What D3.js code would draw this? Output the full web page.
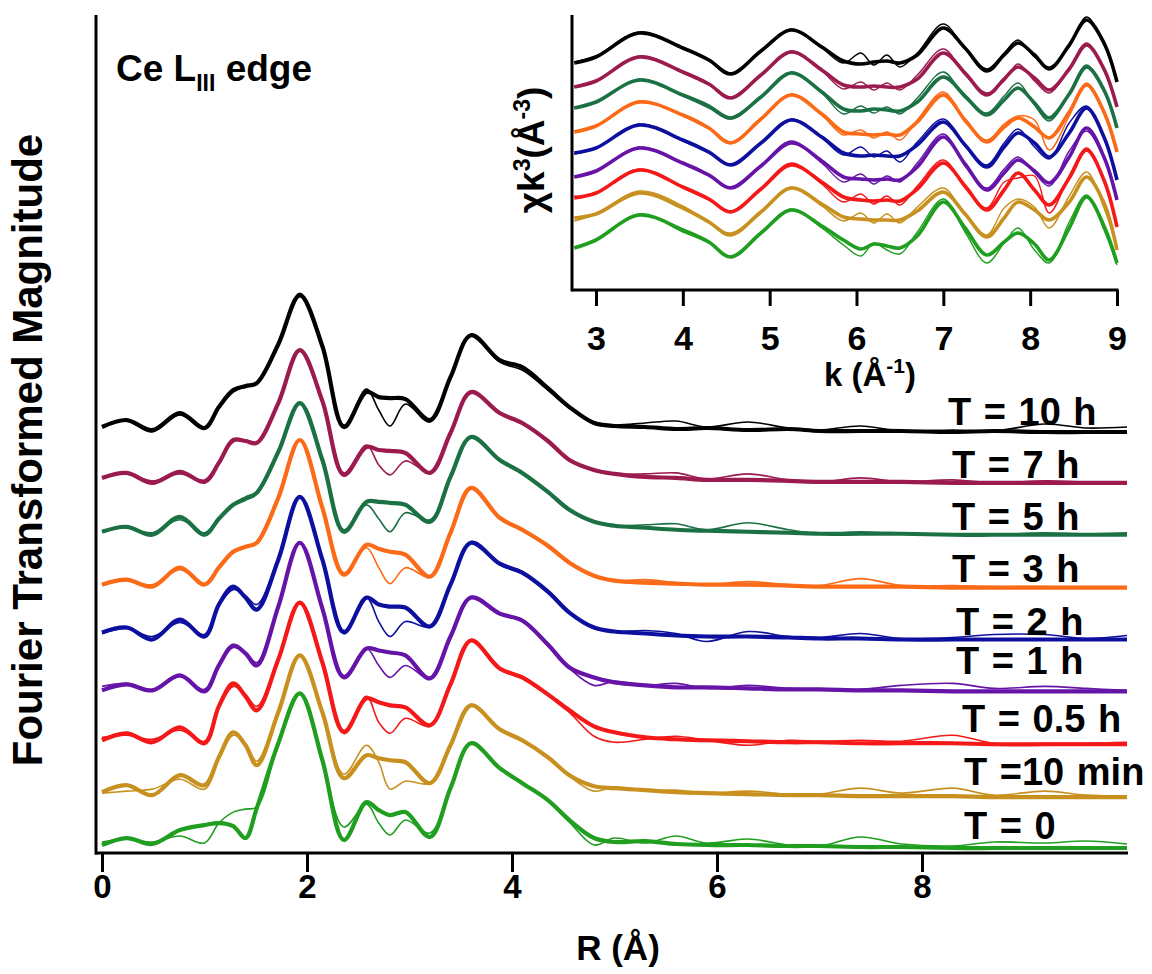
<!DOCTYPE html>
<html><head><meta charset="utf-8">
<script src="https://cdn.jsdelivr.net/npm/d3@7"></script>
<style>
body{margin:0;background:#fff;}
svg text{font-family:"Liberation Sans",Arial,sans-serif;font-weight:bold;fill:#000;}
</style>
</head><body>
<svg id="chart" width="1152" height="974"></svg>
<script>
// ---------- categories ----------
const seriesLabels = ["T = 10 h","T = 7 h","T = 5 h","T = 3 h","T = 2 h","T = 1 h","T = 0.5 h","T =10 min","T = 0"];
const seriesColors = ["#000000","#9c1b4f","#1b7144","#fb6a17","#0d0f9e","#6614a8","#f41818","#c8911f","#1f9e1f"];

// ---------- main panel: R grid and offsets ----------
const rGrid = [0,0.24,0.49,0.76,1.0, 1.14,1.28,1.4,1.51,1.72, 1.93,2.15,2.36,2.58,2.7, 2.81,2.96,3.2,3.4,3.6, 3.88,4.1,4.35,4.56,4.8, 5.0,5.3,5.6,5.9,6.3, 6.7,7.0,7.4,7.8,8.3, 8.7,9.2,9.6,10.0];
const rOffsets = [42.2,37.1,31.9,26.6,21.4,16.2,10.9,5.6,0.5];
const rTicks = [0,2,4,6,8];

// FT magnitude (data = thick, fit = thin), above each offset
const ftData10h = [0.5,1.2,0.2,1.9,0.4, 2.5,4.2,4.6,4.9,8.8, 13.7,8.6,0.5,4.0,3.5, 3.4,3.3,1.2,5.5,9.7, 7.2,6.5,4.4,2.5,0.9, 0.6,0.5,0.3,0.4,0.2, 0.3,0.1,0.1,0.1,0.0, 0.1,0.0,0.0,0.0];
const ftFit10h  = [0.6,1.1,0.0,1.7,0.3, 2.4,4.0,4.6,5.0,8.8, 13.9,8.6,0.7,4.3,2.2, 0.6,2.8,1.0,5.4,9.8, 7.0,6.2,4.2,2.4,1.0, 0.7,0.9,1.1,0.5,1.0, 0.4,0.2,0.6,0.1,0.2, 0.1,0.8,0.4,0.5];
const ftData7h  = [0.5,1.0,0.0,1.1,0.1, 2.0,4.3,4.2,4.0,8.0, 13.3,8.2,0.8,3.6,3.3, 3.2,3.0,1.0,5.0,9.1, 7.0,6.0,4.2,2.3,1.3, 0.9,0.6,0.5,0.3,0.3, 0.2,0.1,0.1,0.1,0.0, 0.0,0.0,0.0,0.0];
const ftFit7h   = [0.6,0.9,0.2,0.9,0.3, 2.1,4.1,4.3,4.1,8.1, 13.4,8.2,1.0,3.8,1.8, 0.8,2.2,1.1,5.1,9.2, 6.9,5.9,4.1,2.2,1.2, 0.9,0.9,1.0,0.4,0.9, 0.3,0.1,0.5,0.1,0.3, 0.0,0.2,0.1,0.0];
const ftData5h  = [0.3,0.8,0.0,1.8,0.0, 1.6,3.0,3.6,4.2,8.3, 13.2,7.5,0.3,3.3,3.3, 3.2,3.0,1.3,5.8,9.8, 7.5,6.2,4.3,2.5,1.3, 0.9,0.7,0.5,0.4,0.3, 0.2,0.1,0.1,0.1,0.0, 0.0,0.0,0.0,0.0];
const ftFit5h   = [0.4,0.7,0.2,1.5,0.2, 1.7,3.1,3.8,4.3,8.4, 13.3,7.6,0.5,3.0,1.6, 0.3,2.2,1.5,5.9,9.9, 7.4,6.1,4.2,2.4,1.3, 0.9,1.0,1.1,0.5,1.2, 0.5,0.1,0.3,0.1,0.0, 0.0,0.2,0.1,0.2];
const ftData3h  = [0.3,0.8,0.1,2.0,0.3, 2.0,3.6,4.1,4.5,9.0, 14.8,8.0,1.3,4.3,3.9, 3.6,3.3,1.1,5.5,10.0, 7.0,5.8,4.2,2.5,1.2, 0.7,0.5,0.4,0.3,0.3, 0.2,0.1,0.1,0.1,0.0, 0.0,0.0,0.0,0.0];
const ftFit3h   = [0.4,0.7,0.3,1.8,0.4, 2.1,3.5,4.0,4.6,9.1, 14.9,8.1,1.5,4.0,2.0, 0.4,2.0,1.1,5.6,10.1, 6.9,5.7,4.1,2.4,1.1, 0.7,0.8,0.5,0.3,0.6, 0.3,0.2,0.9,0.2,0.2, 0.1,0.1,0.0,0.0];
const ftData2h  = [0.7,1.2,0.0,2.0,0.3, 3.5,5.3,4.2,3.0,8.0, 14.3,8.0,0.7,4.2,3.5, 3.3,3.2,1.3,5.5,9.7, 7.6,6.7,4.8,2.7,1.2, 0.8,0.6,0.4,0.3,0.3, 0.2,0.1,0.1,0.0,0.0, 0.0,0.0,0.0,0.0];
const ftFit2h   = [0.6,1.1,0.3,1.7,0.5, 3.4,5.0,4.4,3.5,8.2, 14.4,8.1,0.9,4.2,1.8, 0.3,1.8,1.3,5.6,9.8, 7.5,6.6,4.7,2.6,1.1, 0.8,0.9,0.6,-0.2,0.8, 0.3,0.2,0.6,0.1,0.2, 0.5,0.5,0.1,0.4];
const ftData1h  = [0.1,0.7,0.1,1.6,0.0, 2.6,4.6,3.8,2.6,8.5, 14.9,8.3,1.4,4.3,4.1, 3.9,3.6,1.3,5.5,9.4, 7.8,7.1,4.7,2.4,1.4, 0.9,0.6,0.4,0.4,0.3, 0.2,0.2,0.1,0.1,0.0, 0.0,0.0,0.0,0.0];
const ftFit1h   = [0.5,0.8,0.2,1.5,0.2, 2.7,4.4,3.9,2.9,8.6, 15.0,8.4,1.6,4.3,2.6, 1.4,2.6,1.3,5.6,9.5, 7.7,7.0,4.6,2.3,0.6, 1.0,0.6,0.8,0.3,0.6, 0.3,0.2,0.2,0.6,0.8, 0.3,0.5,0.3,0.1];
const ftData05h = [0.4,1.1,0.2,1.7,0.1, 3.8,6.1,4.8,3.4,8.5, 14.2,8.2,1.2,4.6,4.2, 3.9,3.7,1.9,6.0,10.4, 7.6,6.7,5.0,3.4,1.8, 1.2,0.7,0.5,0.4,0.3, 0.2,0.2,0.1,0.1,0.1, 0.0,0.0,0.0,0.0];
const ftFit05h  = [0.7,0.9,0.5,1.4,0.3, 3.6,5.8,5.0,3.8,8.7, 14.3,8.3,1.4,4.8,2.2, 1.1,2.6,1.8,6.1,10.5, 7.5,6.6,4.9,3.2,0.8, 0.2,0.5,0.8,0.4,-0.1, 0.4,0.3,0.4,0.3,0.9, 0.1,0.1,0.1,0.2];
const ftData10m = [0.5,1.2,0.2,2.2,1.2, 4.0,6.5,5.2,3.2,8.5, 14.2,8.5,1.9,4.2,3.9, 3.7,3.5,1.4,5.2,9.2, 6.8,5.7,4.0,2.2,1.1, 0.9,0.7,0.5,0.4,0.3, 0.2,0.2,0.1,0.1,0.1, 0.0,0.0,0.0,0.0];
const ftFit10m  = [0.4,0.6,0.8,1.8,0.8, 3.8,6.2,5.4,3.6,8.6, 14.3,8.6,2.3,5.2,3.5, 0.8,1.6,1.4,5.3,9.3, 6.7,5.6,3.9,2.1,0.6, 1.0,0.6,0.7,0.4,0.6, 0.3,0.3,0.9,0.4,0.9, 0.2,0.6,0.2,0.1];
const ftData0   = [0.3,1.0,0.4,1.8,2.3, 2.5,2.2,1.0,4.0,10.5, 15.5,8.8,0.8,4.6,3.8, 3.3,3.6,1.1,6.0,10.5, 8.0,6.5,4.8,2.8,1.0, 0.6,0.7,0.4,0.3,0.3, 0.2,0.2,0.1,0.1,0.0, 0.0,0.0,0.0,0.0];
const ftFit0    = [0.6,0.9,0.6,1.2,0.5, 2.5,3.6,3.9,4.1,10.4, 15.5,8.9,2.1,4.4,2.5, 1.3,2.8,1.5,6.1,10.6, 8.1,6.6,4.7,2.6,0.3, 1.0,0.5,1.2,0.5,0.9, 0.3,0.2,1.1,0.4,0.2, 0.6,0.5,0.7,0.4];

// ---------- inset: k grid and offsets ----------
const kGrid = [2.75,3.0,3.5,4.0,4.3,4.55,4.9,5.25,5.6,5.85,6.05,6.2,6.35,6.5,6.7,7.0,7.25,7.5,7.7,7.86,8.05,8.22,8.45,8.65,8.85,9.0];
const kOffsets = [22.7,20.3,18.2,15.8,13.7,11.3,9.2,7.2,4.2];
const kTicks = [3,4,5,6,7,8,9];

const chiData10h = [0,0.6,3.0,1.5,0.3,-1.1,1.2,3.3,1.6,0.2,-0.1,0.1,0.2,0.0,0.8,3.5,1.5,-0.8,0.8,2.0,0.8,-0.6,1.8,4.3,2.0,-1.9];
const chiFit10h  = [0.1,0.7,3.1,1.4,0.4,-1.0,1.2,3.4,1.5,0.0,1.0,-0.2,0.8,-0.4,1.0,3.9,1.4,-0.6,1.0,2.3,0.6,-0.4,1.6,4.6,1.8,-1.7];
const chiData7h  = [0,0.6,3.0,1.5,0.3,-1.1,1.2,3.5,1.7,0.2,0.0,0.1,0.0,0.0,0.8,3.4,1.4,-0.8,0.8,2.0,0.9,-0.3,1.8,4.2,1.8,-2.0];
const chiFit7h   = [0,0.5,3.1,1.4,0.2,-1.0,1.2,3.6,1.6,-0.2,0.5,-0.3,0.4,-0.3,1.2,3.8,1.2,-0.6,0.6,2.3,0.6,-0.6,1.9,4.4,1.6,-1.9];
const chiData5h  = [0,0.6,2.8,1.3,0.2,-1.0,1.1,3.5,1.6,-0.1,-0.3,-0.1,-0.2,-0.3,0.6,3.1,1.2,-0.7,0.8,2.0,0.5,-1.0,1.4,4.1,1.8,-2.0];
const chiFit5h   = [0,0.5,2.9,1.2,0.0,-1.1,1.0,3.6,1.5,-0.6,0.2,-0.5,0.1,-0.6,1.0,3.6,1.0,-0.5,1.2,2.5,0.3,-1.3,1.5,4.3,1.6,-1.8];
const chiData3h  = [0,0.6,3.0,1.7,0.4,-1.1,1.3,3.7,1.8,0.0,-0.2,-0.3,-0.2,-0.3,1.0,3.7,1.2,-1.0,0.5,1.4,0.5,-0.6,2.0,4.7,2.0,-2.0];
const chiFit3h   = [0.1,0.6,3.1,1.6,0.3,-1.0,1.3,3.8,1.7,-0.3,0.2,-0.6,0.0,-0.8,1.2,4.0,1.0,-0.8,0.8,1.6,1.2,-1.8,1.6,4.9,1.8,-1.8];
const chiData2h  = [0,0.5,2.8,1.3,0.1,-1.2,1.0,3.3,1.6,0.0,-0.3,-0.2,-0.3,-0.3,0.8,3.1,0.8,-1.4,0.6,2.0,1.0,-0.4,2.0,4.5,1.6,-2.7];
const chiFit2h   = [-0.1,0.5,2.9,1.2,0.0,-1.1,1.0,3.4,1.5,-0.2,0.6,-0.4,0.2,-0.9,1.1,3.4,0.7,-1.2,1.0,2.4,0.6,-0.6,3.0,4.7,1.4,-2.5];
const chiData1h  = [0,0.6,2.9,1.4,0.2,-1.1,1.1,3.4,1.6,0.0,-0.2,-0.3,-0.2,-0.3,1.0,4.0,1.3,-1.3,0.4,1.7,0.6,-0.6,2.0,4.9,2.0,-2.3];
const chiFit1h   = [0,0.5,3.0,1.3,0.1,-1.0,1.2,3.6,1.4,-0.5,0.3,-0.7,0.1,-0.5,1.4,4.3,1.1,-1.1,0.8,2.0,0.4,-0.9,2.6,4.6,1.8,-2.1];
const chiData05h = [0,0.5,2.8,1.1,-0.1,-1.4,0.9,3.3,1.6,0.1,-0.2,-0.3,-0.2,-0.3,0.9,3.5,1.2,-1.2,0.8,2.5,0.8,-0.7,2.0,4.8,1.8,-2.9];
const chiFit05h  = [0.2,0.4,2.9,1.0,-0.2,-1.3,1.0,3.5,1.4,-0.4,0.4,-0.6,0.2,-0.7,1.2,3.8,1.0,-1.0,1.6,2.0,2.2,-1.5,2.2,5.0,1.6,-2.7];
const chiData10m = [0,0.4,2.5,1.0,-0.4,-1.7,0.6,3.0,1.4,0.1,-0.1,-0.2,-0.2,-0.2,0.7,2.6,0.4,-1.9,0.0,1.6,0.8,-0.2,1.6,4.1,1.5,-3.2];
const chiFit10m  = [-0.3,0.4,2.7,1.2,-0.5,-1.5,0.7,3.1,1.2,-0.3,0.5,-0.5,0.4,-0.5,1.1,3.0,0.3,-1.7,1.0,1.9,1.1,-1.0,2.2,4.6,1.0,-3.0];
const chiData0   = [0,0.8,3.3,1.8,0.6,-0.9,1.5,3.8,2.2,0.8,-0.1,0.4,0.2,0.0,1.2,4.6,2.0,-0.7,0.6,1.5,0.4,-1.2,2.0,5.1,2.2,-1.5];
const chiFit0    = [0.1,0.8,3.4,1.6,0.5,-0.8,1.6,3.9,2.0,0.3,-0.8,0.5,-0.2,-0.6,1.6,4.9,1.6,-1.5,0.5,2.0,-0.2,-1.5,2.6,5.3,1.8,-1.7];

// ---------- tables built from the arrays ----------
const ftData = [ftData10h,ftData7h,ftData5h,ftData3h,ftData2h,ftData1h,ftData05h,ftData10m,ftData0];
const ftFit  = [ftFit10h,ftFit7h,ftFit5h,ftFit3h,ftFit2h,ftFit1h,ftFit05h,ftFit10m,ftFit0];
const chiData = [chiData10h,chiData7h,chiData5h,chiData3h,chiData2h,chiData1h,chiData05h,chiData10m,chiData0];
const chiFit  = [chiFit10h,chiFit7h,chiFit5h,chiFit3h,chiFit2h,chiFit1h,chiFit05h,chiFit10m,chiFit0];

const svg = d3.select("#chart");
svg.append("rect").attr("width",1152).attr("height",974).attr("fill","#fff");

// ---------- main panel ----------
const x = d3.scaleLinear().domain([0,10]).range([102,1127]);
const y = d3.scaleLinear().domain([0,84]).range([853,15]);
const curve = d3.curveCatmullRom.alpha(0.5);

const mainG = svg.append("g");
seriesLabels.forEach((lab,i)=>{
  const line = d3.line().x((d,j)=>x(rGrid[j])).y(d=>y(d+rOffsets[i])).curve(curve);
  mainG.append("path").attr("d",line(ftFit[i])).attr("fill","none")
    .attr("stroke",seriesColors[i]).attr("stroke-width",1.6).attr("stroke-linejoin","round");
  mainG.append("path").attr("d",line(ftData[i])).attr("fill","none")
    .attr("stroke",seriesColors[i]).attr("stroke-width",4.2).attr("stroke-linejoin","round");
});

// axes
const gx = svg.append("g").attr("transform","translate(0,853)")
  .call(d3.axisBottom(x).tickValues(rTicks).tickSize(19).tickPadding(3).tickFormat(d3.format("d")));
gx.select(".domain").remove();
gx.selectAll(".tick line").attr("stroke","#000").attr("stroke-width",3);
gx.selectAll(".tick text").attr("font-size",33).attr("fill","#000")
  .style("font-family","'Liberation Sans',Arial,sans-serif").style("font-weight","bold");
svg.append("line").attr("x1",x(0)-7).attr("x2",x(10)+1).attr("y1",y(0)).attr("y2",y(0))
  .attr("stroke","#000").attr("stroke-width",3);
svg.append("line").attr("x1",x(0)-6).attr("x2",x(0)-6).attr("y1",y(84)).attr("y2",y(0)+1.5)
  .attr("stroke","#000").attr("stroke-width",3);

// labels
svg.append("text").attr("transform","translate(42,450) rotate(-90)").attr("text-anchor","middle")
  .attr("font-size",42).text("Fourier Transformed Magnitude");
svg.append("text").attr("x",618).attr("y",960).attr("text-anchor","middle").attr("font-size",35).text("R (Å)");
const ce = svg.append("text").attr("x",116).attr("y",81).attr("font-size",37);
ce.append("tspan").text("Ce L");
ce.append("tspan").attr("dy",10).attr("font-size",23).text("III");
ce.append("tspan").attr("dy",-10).text(" edge");

const labelX = [948,952,952,952,956,956,962,964,964];
const labelY = [425,478,530,582,635,674,732,785,839];
seriesLabels.forEach((lab,i)=>{
  svg.append("text").attr("x",labelX[i]).attr("y",labelY[i]).attr("font-size",38)
    .attr("word-spacing",2).text(lab);
});

// ---------- inset ----------
const kx = d3.scaleLinear().domain([3,9]).range([596,1117]);
const ky = d3.scaleLinear().domain([0,27.5]).range([290,15]);
const inG = svg.append("g");
seriesLabels.forEach((lab,i)=>{
  const line = d3.line().x((d,j)=>kx(kGrid[j])).y(d=>ky(d+kOffsets[i])).curve(curve);
  inG.append("path").attr("d",line(chiFit[i])).attr("fill","none")
    .attr("stroke",seriesColors[i]).attr("stroke-width",1.4).attr("stroke-linejoin","round");
  inG.append("path").attr("d",line(chiData[i])).attr("fill","none")
    .attr("stroke",seriesColors[i]).attr("stroke-width",3.6).attr("stroke-linejoin","round");
});
const gk = svg.append("g").attr("transform","translate(0,290)")
  .call(d3.axisBottom(kx).tickValues(kTicks).tickSize(16).tickPadding(20).tickFormat(d3.format("d")));
gk.select(".domain").remove();
gk.selectAll(".tick line").attr("stroke","#000").attr("stroke-width",3);
gk.selectAll(".tick text").attr("font-size",34).attr("fill","#000")
  .style("font-family","'Liberation Sans',Arial,sans-serif").style("font-weight","bold");
svg.append("line").attr("x1",572).attr("x2",kx(9)+1.5).attr("y1",290).attr("y2",290)
  .attr("stroke","#000").attr("stroke-width",3);
svg.append("line").attr("x1",572).attr("x2",572).attr("y1",15).attr("y2",291.5)
  .attr("stroke","#000").attr("stroke-width",3);

const kl = svg.append("text").attr("x",870).attr("y",386).attr("text-anchor","middle").attr("font-size",33);
kl.append("tspan").text("k (Å");
kl.append("tspan").attr("dy",-13).attr("font-size",21).text("-1");
kl.append("tspan").attr("dy",13).text(")");

const cl = svg.append("text").attr("transform","translate(544,150) rotate(-90)").attr("text-anchor","middle").attr("font-size",37);
cl.append("tspan").text("χk");
cl.append("tspan").attr("dy",-14).attr("font-size",23).text("3");
cl.append("tspan").attr("dy",14).text("(Å");
cl.append("tspan").attr("dy",-14).attr("font-size",23).text("-3");
cl.append("tspan").attr("dy",14).text(")");
</script>
</body></html>
